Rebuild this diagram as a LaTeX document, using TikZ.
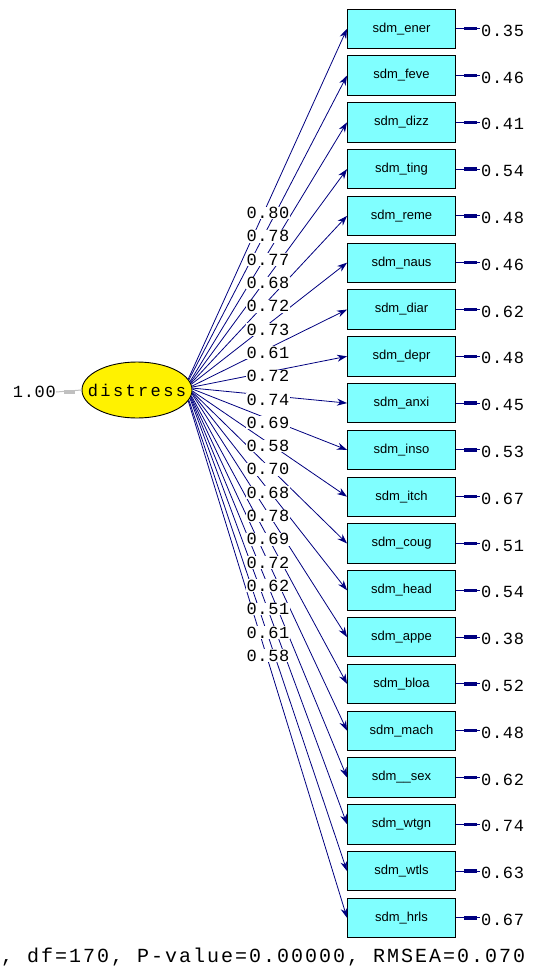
\documentclass[tikz,border=0pt]{standalone}
\usepackage{fontspec}
\setmainfont{Liberation Sans}
\newfontfamily\numf[LetterSpace=4]{Liberation Mono}
\newfontfamily\latf[LetterSpace=14]{Liberation Mono}
\newfontfamily\botf[LetterSpace=10]{Liberation Mono}
\usetikzlibrary{arrows.meta,shapes.geometric}
\definecolor{navy}{RGB}{0,0,128}
\definecolor{boxcyan}{RGB}{128,255,255}
\definecolor{arrgrey}{RGB}{192,192,192}
\begin{document}
\begin{tikzpicture}[x=1pt,y=-1pt,
 obs/.style={draw=black, line width=0.9pt, fill=boxcyan, minimum width=108pt, minimum height=39.5pt, inner sep=0pt, font=\fontsize{13}{13}\selectfont},
 lat/.style={ellipse, draw=black, line width=0.9pt, fill=yellow, minimum width=110pt, minimum height=56pt, inner sep=0pt, font=\latf\fontsize{17}{17}\selectfont},
 load/.style={draw=navy, line width=0.8pt, -{Stealth[length=10pt,width=7pt]}},
 lbl/.style={fill=white, inner sep=0.6pt, font=\numf\fontsize{17}{17}\selectfont},
 errl/.style={draw=navy, line width=1pt},
 errb/.style={draw=navy, line width=3.5pt},
 errt/.style={anchor=west, inner sep=0pt, font=\numf\fontsize{17}{17}\selectfont},
 greyl/.style={draw=arrgrey, line width=1pt},
 greyb/.style={draw=arrgrey, line width=3.5pt}
]
\useasboundingbox (0,0) rectangle (533,975);
\fill[white] (0,0) rectangle (533,975);

\node[lat] (distress) at (137,390) {\makebox[0pt]{distress}};
\node[anchor=east, inner sep=0pt, font=\numf\fontsize{17}{17}\selectfont] (one) at (56,392) {1.00};
\draw[greyl] (one.east) -- (distress.west);
\draw[greyb] ([xshift=8pt]one.east) -- ([xshift=19pt]one.east);

\foreach \n/\e/\l [count=\i from 0] in {
 sdm\_ener/0.35/0.80, sdm\_feve/0.46/0.78, sdm\_dizz/0.41/0.77, sdm\_ting/0.54/0.68,
 sdm\_reme/0.48/0.72, sdm\_naus/0.46/0.73, sdm\_diar/0.62/0.61, sdm\_depr/0.48/0.72,
 sdm\_anxi/0.45/0.74, sdm\_inso/0.53/0.69, sdm\_itch/0.67/0.58, sdm\_coug/0.51/0.70,
 sdm\_head/0.54/0.68, sdm\_appe/0.38/0.78, sdm\_bloa/0.52/0.69, sdm\_mach/0.48/0.72,
 sdm\_\_sex/0.62/0.62, sdm\_wtgn/0.74/0.51, sdm\_wtls/0.63/0.61, sdm\_hrls/0.67/0.58}{
  \pgfmathsetmacro\yy{28.7+46.8*\i}
  \node[obs] (b\i) at (401.5,\yy) {\n};
  \coordinate (e\i) at (480,\yy);
  \draw[errl] (e\i) -- (b\i.east);
  \draw[errb] ([xshift=-3pt]e\i) -- ([xshift=-16pt]e\i);
  \node[errt] (t\i) at (481,\yy+2) {\e};
  \pgfmathtruncatemacro\ang{round(12-\i*24/19)}
  \draw[load] (distress.\ang) -- (b\i.west);
}
\foreach \l [count=\i from 0] in {0.80,0.78,0.77,0.68,0.72,0.73,0.61,0.72,0.74,0.69,0.58,0.70,0.68,0.78,0.69,0.72,0.62,0.51,0.61,0.58}{
  \pgfmathsetmacro\yl{213+23.3*\i}
  \node[lbl] (l\i) at (268,\yl) {\l};
}
\node[anchor=base west, inner sep=0pt, font=\botf\fontsize{20}{20}\selectfont] (fit) at (1,962) {, df=170, P-value=0.00000, RMSEA=0.070};
\end{tikzpicture}
\end{document}
